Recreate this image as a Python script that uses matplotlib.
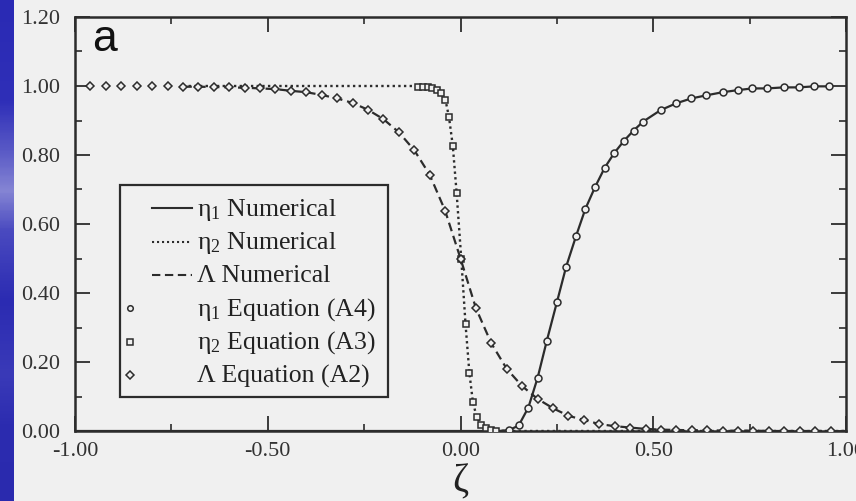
import matplotlib
matplotlib.use("Agg")
import matplotlib.pyplot as plt
import numpy as np
from matplotlib.patches import Rectangle
from matplotlib.lines import Line2D
from matplotlib.colors import LinearSegmentedColormap
from matplotlib.ticker import MultipleLocator, FormatStrFormatter

# eta_1, Equation (A4) markers
eta1_z = [0.127, 0.151, 0.176, 0.200, 0.224, 0.250, 0.274, 0.300, 0.324, 0.349,
          0.374, 0.399, 0.424, 0.449, 0.474, 0.519, 0.560, 0.599, 0.638, 0.680,
          0.719, 0.757, 0.796, 0.838, 0.877, 0.918, 0.957]
eta1_y = [0.003, 0.016, 0.068, 0.154, 0.262, 0.373, 0.476, 0.566, 0.644, 0.707,
          0.763, 0.806, 0.841, 0.871, 0.897, 0.930, 0.950, 0.964, 0.973, 0.982,
          0.988, 0.993, 0.993, 0.996, 0.996, 0.999, 0.999]

# eta_2, Equation (A3) markers
eta2_z = [-0.111, -0.098, -0.085, -0.073, -0.061, -0.050, -0.039, -0.030, -0.020,
          -0.010, 0.002, 0.013, 0.023, 0.032, 0.042, 0.054, 0.067, 0.080, 0.093]
eta2_y = [0.998, 0.998, 0.996, 0.993, 0.988, 0.979, 0.959, 0.911, 0.827,
          0.689, 0.499, 0.310, 0.169, 0.085, 0.040, 0.017, 0.008, 0.003, 0.001]

# Lambda, Equation (A2) markers
lam_z = [-0.96, -0.92, -0.88, -0.84, -0.80, -0.76, -0.72, -0.68, -0.64, -0.60,
         -0.56, -0.52, -0.48, -0.44, -0.40, -0.36, -0.32, -0.28, -0.24, -0.20,
         -0.16, -0.12, -0.08, -0.04, 0.00, 0.04, 0.08, 0.12, 0.16, 0.20,
         0.24, 0.28, 0.32, 0.36, 0.40, 0.44, 0.48, 0.52, 0.56, 0.60,
         0.64, 0.68, 0.72, 0.76, 0.80, 0.84, 0.88, 0.92, 0.96]
lam_y = [1.000, 1.000, 1.000, 1.000, 0.999, 0.999, 0.998, 0.998, 0.997, 0.996,
         0.995, 0.993, 0.991, 0.986, 0.982, 0.974, 0.964, 0.951, 0.931, 0.904,
         0.866, 0.814, 0.743, 0.639, 0.500, 0.356, 0.254, 0.180, 0.130, 0.093,
         0.066, 0.044, 0.032, 0.020, 0.014, 0.010, 0.006, 0.004, 0.003, 0.002,
         0.002, 0.001, 0.001, 0.001, 0.000, 0.000, 0.000, 0.000, 0.000]

# numerical curves (same read points, plus the flat ends)
eta1_num_z = [-1.0, 0.10] + eta1_z
eta1_num_y = [0.0, 0.0] + eta1_y
eta2_num_z = [-0.72, -0.12] + eta2_z + [0.12, 1.0]
eta2_num_y = [1.0, 1.0] + eta2_y + [0.0, 0.0]
lam_num_z = lam_z[6:] + [1.0]
lam_num_y = lam_y[6:] + [0.0]

xticks = [-1.0, -0.5, 0.0, 0.5, 1.0]
yticks = [0.0, 0.2, 0.4, 0.6, 0.8, 1.0, 1.2]

bg = "#f0f0f0"
ink = "#2c2c2c"

plt.rcParams["font.family"] = ["Liberation Serif", "DejaVu Serif"]
plt.rcParams["mathtext.fontset"] = "custom"
plt.rcParams["mathtext.rm"] = "Liberation Serif"
plt.rcParams["mathtext.it"] = "Liberation Serif:italic"

fig = plt.figure(figsize=(8.56, 5.01), dpi=100, facecolor=bg)

# blue strip on the left edge
strip = fig.add_axes([0, 0, 14 / 856, 1])
blue = LinearSegmentedColormap.from_list(
    "strip", [(0.0, "#2a2ab4"), (0.2, "#2f2fb8"), (0.3, "#5a5ac6"), (0.38, "#8585d4"),
              (0.46, "#4a4ac0"), (0.6, "#2b2bb2"), (0.75, "#3a3ab8"), (0.85, "#2c2cb0"),
              (1.0, "#2a2aae")])
strip.imshow(np.linspace(0, 1, 200).reshape(-1, 1), cmap=blue, aspect="auto")
strip.axis("off")

ax = fig.add_axes([75 / 856, 1 - 431 / 501, 771 / 856, 414 / 501])
ax.set_facecolor(bg)

ax.plot(eta1_num_z, eta1_num_y, color=ink, lw=1.6, ls="-")
ax.plot(eta2_num_z, eta2_num_y, color=ink, lw=1.7, ls=(0, (1, 1.4)))
ax.plot(lam_num_z, lam_num_y, color=ink, lw=1.6, ls=(0, (4, 2.2)))

mk = dict(ls="none", mfc=bg, mec=ink, mew=1.1, zorder=4)
ax.plot(eta1_z, eta1_y, marker="o", ms=5, **mk)
ax.plot(eta2_z, eta2_y, marker="s", ms=5, **mk)
ax.plot(lam_z, lam_y, marker="D", ms=4, **mk)

ax.set_xlim(-1, 1)
ax.set_ylim(0, 1.2)
ax.set_xticks(xticks)
ax.set_yticks(yticks)
ax.xaxis.set_minor_locator(MultipleLocator(0.25))
ax.yaxis.set_minor_locator(MultipleLocator(0.1))
ax.xaxis.set_major_formatter(FormatStrFormatter("%.2f"))
ax.yaxis.set_major_formatter(FormatStrFormatter("%.2f"))
ax.tick_params(which="both", direction="in", top=True, right=True, color=ink,
               labelcolor="#333333", labelsize=16)
ax.tick_params(which="major", length=11, width=1.3)
ax.tick_params(which="minor", length=5, width=1.2)
ax.tick_params(axis="y", pad=11)
ax.tick_params(axis="x", pad=8)
for s in ax.spines.values():
    s.set_color(ink)
    s.set_linewidth(1.8)

ax.set_xlabel("ζ", fontsize=28, color="#222222", labelpad=2)

ax.text(0.022, 0.918, "a", transform=ax.transAxes, fontsize=32,
        family=["Liberation Sans", "DejaVu Sans"], color="#111111")

# legend box drawn by hand
ax.add_patch(Rectangle((0.0584, 0.0819), 0.3476, 0.5131, transform=ax.transAxes,
                       facecolor=bg, edgecolor=ink, lw=1.6, zorder=5))
labels = [r"$\mathrm{η_1}$ Numerical", r"$\mathrm{η_2}$ Numerical", "Λ Numerical",
          r"$\mathrm{η_1}$ Equation (A4)", r"$\mathrm{η_2}$ Equation (A3)",
          "Λ Equation (A2)"]
styles = ["-", (0, (1, 1.4)), (0, (4, 2.2))]
markers = ["o", "s", "D"]
for i, lab in enumerate(labels):
    yb = 0.5205 - i * 0.0805
    yc = yb + 0.017
    ax.text(0.1582, yb, lab, transform=ax.transAxes, fontsize=18.5,
            color="#222222", va="baseline", ha="left", zorder=6)
    if i < 3:
        ax.add_line(Line2D([0.0999, 0.1518], [yc, yc], transform=ax.transAxes,
                           color=ink, lw=1.5, ls=styles[i], zorder=6))
    else:
        ax.add_line(Line2D([0.0713], [yc], transform=ax.transAxes, marker=markers[i - 3],
                           ms=4, mfc=bg, mec=ink, mew=1.1, ls="none", zorder=6))

fig.savefig("out.png", dpi=100, facecolor=bg)
